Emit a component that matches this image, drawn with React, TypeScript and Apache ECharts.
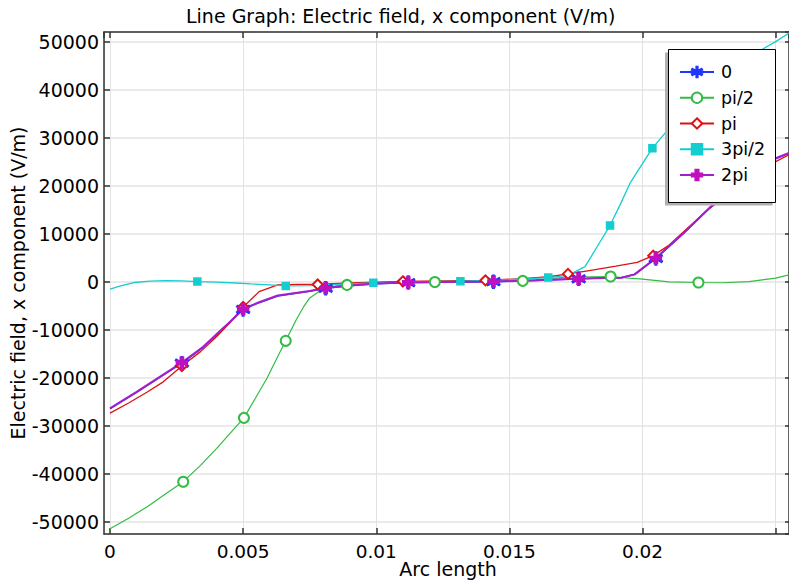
import React, { useEffect, useRef } from "react";
import * as echarts from "echarts";

// ---- data ----
const seriesNames = ["0", "pi/2", "pi", "3pi/2", "2pi"];

// series "0"
const arc0 = [0, 0.001, 0.002, 0.0027, 0.0035, 0.004, 0.0045, 0.005, 0.0056, 0.0063, 0.0075, 0.0081, 0.009, 0.01, 0.0112, 0.0125, 0.0144, 0.016, 0.0176, 0.0185, 0.0192, 0.0197, 0.0205, 0.0215, 0.0225, 0.0235, 0.0245, 0.025, 0.0255];
const ex0 = [-26500, -23100, -19500, -17000, -13700, -11100, -8500, -5800, -4400, -3000, -2000, -1400, -850, -450, -220, -120, -20, 230, 580, 740, 800, 1450, 4800, 9800, 15200, 19800, 23600, 25600, 26700];
const marks0 = [3, 7, 11, 14, 16, 18, 22];

// series "pi/2"
const arcHalfPi = [0, 0.0007, 0.0014, 0.002, 0.00275, 0.0034, 0.004, 0.0045, 0.00503, 0.0054, 0.0059, 0.0063, 0.0066, 0.007, 0.0073, 0.0075, 0.0078, 0.0081, 0.0085, 0.0089, 0.01, 0.011, 0.0122, 0.0135, 0.0155, 0.0165, 0.0172, 0.0188, 0.0195, 0.0199, 0.021, 0.0221, 0.023, 0.024, 0.025, 0.0255];
const exHalfPi = [-51500, -49300, -46900, -44600, -41700, -38300, -34800, -31700, -28400, -24900, -20100, -15600, -12350, -7900, -5000, -3400, -2300, -1300, -900, -700, -350, -200, -100, 0, 150, 600, 950, 1050, 700, 560, -50, -200, -250, 0, 700, 1400];
const marksHalfPi = [4, 8, 12, 19, 22, 24, 27, 31];

// series "pi"
const arcPi = [0, 0.0007, 0.0014, 0.002, 0.0027, 0.0034, 0.004, 0.0045, 0.005, 0.0056, 0.0063, 0.007, 0.0078, 0.009, 0.011, 0.0125, 0.0141, 0.0155, 0.0165, 0.0172, 0.018, 0.019, 0.0198, 0.0204, 0.021, 0.0215, 0.0225, 0.0235, 0.0245, 0.025, 0.0255];
const exPi = [-27400, -25300, -23000, -20900, -17600, -14600, -11500, -8600, -5300, -2100, -700, -600, -600, -300, 50, 150, 250, 600, 1000, 1600, 2300, 3200, 4000, 5400, 7600, 10200, 15200, 19400, 23300, 25000, 26400];
const marksPi = [4, 8, 12, 14, 16, 19, 23];

// series "3pi/2"
const arc3HalfPi = [0, 0.0004, 0.0009, 0.0015, 0.0021, 0.0027, 0.00328, 0.004, 0.0047, 0.0053, 0.006, 0.0066, 0.0075, 0.0085, 0.00989, 0.0115, 0.01316, 0.015, 0.01646, 0.0172, 0.01784, 0.0183, 0.01878, 0.0192, 0.01953, 0.02037, 0.0209, 0.0215, 0.022, 0.0225, 0.023, 0.0235, 0.024, 0.0245, 0.025, 0.0255];
const ex3HalfPi = [-1600, -900, -200, 100, 200, 150, 0, -100, -300, -500, -700, -900, -850, -600, -270, -50, 80, 400, 830, 1300, 3100, 7300, 11700, 16500, 20500, 27800, 31300, 35300, 38200, 41000, 43500, 45600, 47300, 48400, 50000, 51800];
const marks3HalfPi = [6, 11, 14, 16, 18, 22, 25];

// series "2pi"
const arc2Pi = [0, 0.001, 0.002, 0.0027, 0.0035, 0.004, 0.0045, 0.005, 0.0056, 0.0063, 0.0075, 0.0081, 0.009, 0.01, 0.0112, 0.0125, 0.0144, 0.016, 0.0176, 0.0185, 0.0192, 0.0197, 0.0205, 0.0215, 0.0225, 0.0235, 0.0245, 0.025, 0.0255];
const ex2Pi = [-26400, -23000, -19400, -16900, -13600, -11000, -8400, -5700, -4300, -2900, -1950, -1350, -800, -400, -200, -100, 0, 250, 600, 750, 800, 1500, 4900, 9900, 15300, 19900, 23700, 25700, 26800];
const marks2Pi = [3, 7, 11, 14, 16, 18, 22];

const titleText = "Line Graph: Electric field, x component (V/m)";
const xAxisTitle = "Arc length";
const yAxisTitle = "Electric field, x component (V/m)";

// ---- styles ----
const FONT = "DejaVu Sans";

function asteriskPath(): string {
  const c = 10, L = 10, w = 1.1;
  const parts: string[] = [];
  [90, 30, -30].forEach((deg) => {
    const a = (deg * Math.PI) / 180;
    const dx = Math.cos(a), dy = Math.sin(a);
    const nx = -dy, ny = dx;
    const p = [
      [c + L * dx + w * nx, c + L * dy + w * ny],
      [c - L * dx + w * nx, c - L * dy + w * ny],
      [c - L * dx - w * nx, c - L * dy - w * ny],
      [c + L * dx - w * nx, c + L * dy - w * ny],
    ];
    parts.push(
      "M" + p.map((q) => q[0].toFixed(2) + "," + q[1].toFixed(2)).join("L") + "Z"
    );
  });
  return "path://" + parts.join("");
}
const PLUS = "path://M7,0L13,0L13,7L20,7L20,13L13,13L13,20L7,20L7,13L0,13L0,7L7,7Z";

function buildData(xs: number[], ys: number[], marks: number[]) {
  return xs.map((x, i) =>
    marks.includes(i) ? { value: [x, ys[i]] } : { value: [x, ys[i]], symbol: "none" }
  );
}

export default function App() {
  const ref = useRef<HTMLDivElement>(null);
  useEffect(() => {
    if (!ref.current) return;
    const chart = echarts.init(ref.current, undefined, { renderer: "svg" });
    const axisLineStyle = { color: "#333", width: 1.5 };
    const fmt = (v: number) => String(parseFloat(Number(v).toPrecision(8)));
    const fmtX = (v: number) => (v > 0.0245 ? "" : fmt(v));
    const mkSeries = (
      name: string,
      xs: number[],
      ys: number[],
      marks: number[],
      color: string,
      symbol: string,
      symbolSize: number,
      width: number,
      lineColor?: string
    ) => ({
      type: "line",
      name,
      data: buildData(xs, ys, marks),
      symbol,
      symbolSize,
      showSymbol: true,
      smooth: false,
      color,
      lineStyle: { color: lineColor || color, width },
      itemStyle: { color, borderColor: color, borderWidth: 1.5 },
      emphasis: { disabled: true },
      z: 2,
    });

    chart.setOption({
      animation: false,
      backgroundColor: "#fff",
      textStyle: { fontFamily: FONT },
      title: {
        text: titleText,
        left: 186,
        top: 6,
        padding: 0,
        textStyle: { fontFamily: FONT, fontSize: 19, fontWeight: "normal", color: "#000" },
      },
      grid: { left: 104, top: 32, right: 0, bottom: 50, containLabel: false, outerBoundsMode: "none" },
      xAxis: [
        {
          type: "value",
          position: "bottom",
          min: -0.000225,
          max: 0.0255,
          minInterval: 0.005,
          maxInterval: 0.005,
          axisLine: { show: true, onZero: false, lineStyle: axisLineStyle },
          axisTick: { show: true, inside: true, length: 6, lineStyle: axisLineStyle },
          axisLabel: {
            show: true,
            margin: 8,
            fontSize: 18.5,
            fontFamily: FONT,
            color: "#000",
            showMinLabel: false,
            showMaxLabel: false,
            hideOverlap: false,
            formatter: fmtX,
          },
          splitLine: { show: true, lineStyle: { color: "#e2e2e2", width: 1 } },
        },
        {
          type: "value",
          position: "top",
          min: -0.000225,
          max: 0.0255,
          minInterval: 0.005,
          maxInterval: 0.005,
          axisLine: { show: true, onZero: false, lineStyle: axisLineStyle },
          axisTick: { show: true, inside: true, length: 6, lineStyle: axisLineStyle },
          axisLabel: { show: false },
          splitLine: { show: false },
        },
      ],
      yAxis: [
        {
          type: "value",
          position: "left",
          min: -52600,
          max: 52000,
          minInterval: 10000,
          maxInterval: 10000,
          axisLine: { show: true, onZero: false, lineStyle: axisLineStyle },
          axisTick: { show: true, inside: true, length: 6, lineStyle: axisLineStyle },
          axisLabel: {
            show: true,
            margin: 5,
            fontSize: 19,
            fontFamily: FONT,
            color: "#000",
            showMinLabel: false,
            showMaxLabel: false,
            formatter: fmt,
          },
          splitLine: { show: true, lineStyle: { color: "#ebebeb", width: 2 } },
        },
        {
          type: "value",
          position: "right",
          min: -52600,
          max: 52000,
          minInterval: 10000,
          maxInterval: 10000,
          axisLine: { show: true, onZero: false, lineStyle: axisLineStyle },
          axisTick: { show: true, inside: true, length: 4, lineStyle: axisLineStyle },
          axisLabel: { show: false },
          splitLine: { show: false },
        },
      ],
      legend: {
        data: seriesNames,
        orient: "vertical",
        left: 679,
        top: 63,
        padding: 0,
        itemWidth: 34,
        itemHeight: 13,
        itemGap: 7.75,
        z: 6,
        selectedMode: false,
        textStyle: { fontFamily: FONT, fontSize: 17.5, color: "#000", lineHeight: 18, padding: [0, 0, 0, 2] },
      },
      graphic: [
        {
          type: "rect",
          z: 4,
          z2: 0,
          shape: { x: 665, y: 52.5, width: 107.5, height: 153 },
          style: { fill: "#b0b0b0" },
        },
        {
          type: "rect",
          z: 4,
          z2: 1,
          shape: { x: 668.5, y: 49.5, width: 107, height: 153 },
          style: { fill: "#fff", stroke: "#000", lineWidth: 1 },
        },
        {
          type: "text",
          x: 18,
          y: 283,
          rotation: Math.PI / 2,
          style: {
            text: yAxisTitle,
            fontFamily: FONT,
            fontSize: 19,
            fill: "#000",
            align: "center",
            verticalAlign: "middle",
          },
        },
        {
          type: "text",
          x: 448,
          y: 569,
          style: {
            text: xAxisTitle,
            fontFamily: FONT,
            fontSize: 19,
            fill: "#000",
            align: "center",
            verticalAlign: "middle",
          },
        },
      ],
      series: [
        mkSeries("0", arc0, ex0, marks0, "#1f36ff", asteriskPath(), 13, 1.5),
        mkSeries("pi/2", arcHalfPi, exHalfPi, marksHalfPi, "#33bb44", "emptyCircle", 10, 1.2),
        mkSeries("pi", arcPi, exPi, marksPi, "#dd1111", "emptyDiamond", 10, 1.3),
        mkSeries("3pi/2", arc3HalfPi, ex3HalfPi, marks3HalfPi, "#14cdd0", "rect", 7, 1.3),
        mkSeries("2pi", arc2Pi, ex2Pi, marks2Pi, "#c010c0", PLUS, 11, 2, "#a41ecc"),
      ],
    });
    return () => chart.dispose();
  }, []);
  return (
    <div
      ref={ref}
      style={{ position: "fixed", left: 0, top: 0, width: 789, height: 584, background: "#fff" }}
    />
  );
}
